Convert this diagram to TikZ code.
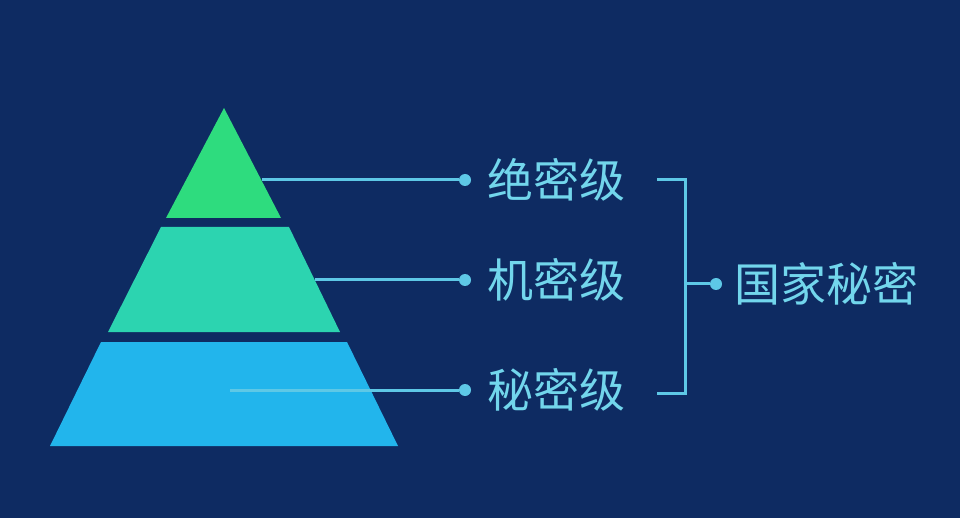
\documentclass[tikz,border=0pt]{standalone}
\usepackage{fontspec}
\newfontfamily\cjk{Noto Sans CJK SC}
\definecolor{bg}{HTML}{0E2B62}
\definecolor{tx}{HTML}{72D6EC}
\definecolor{ln}{HTML}{5EC8E6}
\definecolor{t1}{HTML}{2EDC7E}
\definecolor{t2}{HTML}{2CD4B0}
\definecolor{t3}{HTML}{22B5EC}
\tikzset{lbl/.style={text=tx,font=\cjk\fontsize{46}{50}\selectfont,anchor=west,inner sep=0pt},
conn/.style={draw=ln,line width=3pt},
dot/.style={circle,fill=ln,minimum size=12pt,inner sep=0pt}}
\begin{document}
\begin{tikzpicture}[x=1pt,y=-1pt]
\fill[bg] (0,0) rectangle (960,518);
\useasboundingbox (0,0) rectangle (960,518);
\fill[t1] (224,108) -- (281,218) -- (166,218) -- cycle;
\fill[t2] (161,227) -- (289,227) -- (340,332) -- (108,332) -- cycle;
\fill[t3] (101,342) -- (347,342) -- (398,446) -- (50,446) -- cycle;
\coordinate (s1) at (262,180);
\coordinate (s2) at (315,280);
\coordinate (s3) at (230,390);
\node[dot] (d1) at (465,180) {};
\node[dot] (d2) at (465,280) {};
\node[dot] (d3) at (465,390) {};
\draw[conn] (s1) -- (d1);
\draw[conn] (s2) -- (d2);
\draw[conn] (s3) -- (d3);
\node[lbl] (l1) at (487,180) {绝密级};
\node[lbl] (l2) at (487,280) {机密级};
\node[lbl] (l3) at (487,390) {秘密级};
\coordinate (b1) at (657,180);
\coordinate (b2) at (685,180);
\coordinate (b3) at (685,393);
\coordinate (b4) at (657,393);
\coordinate (bm) at (685,284);
\draw[conn] (b1) -- (b2) -- (b3) -- (b4);
\node[dot] (dm) at (716,284) {};
\draw[conn] (bm) -- (dm);
\node[lbl] (g) at (734,284) {国家秘密};
\end{tikzpicture}
\end{document}
